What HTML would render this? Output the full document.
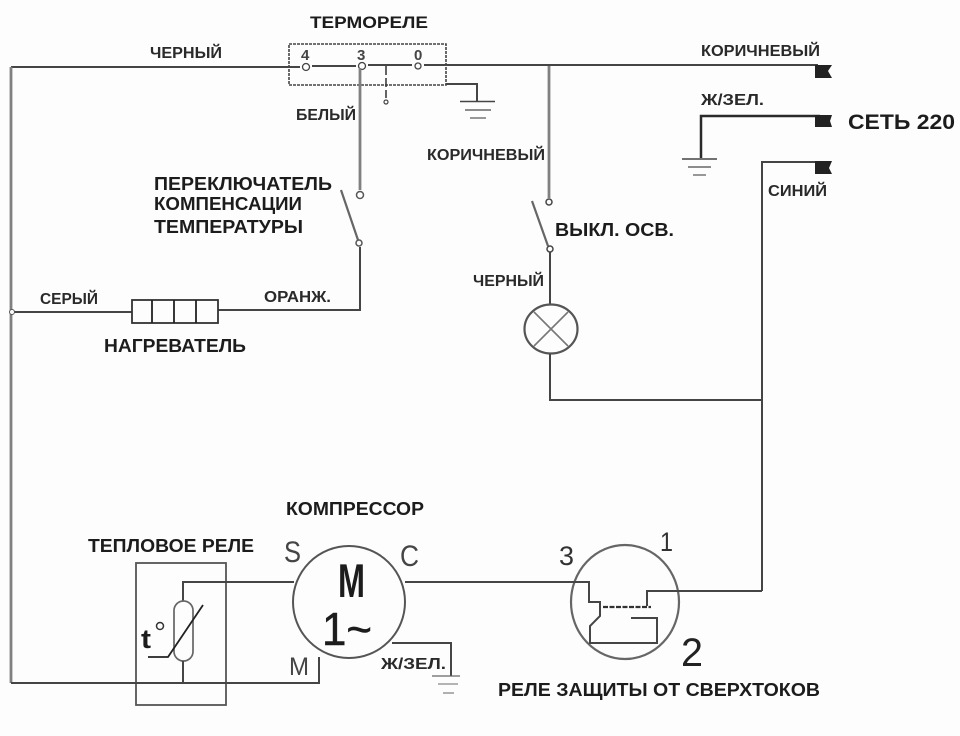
<!DOCTYPE html>
<html><head><meta charset="utf-8"><style>
html,body{margin:0;padding:0;background:#fdfdfd}
svg{display:block}
text{font-family:"Liberation Sans","DejaVu Sans",sans-serif;fill:#1c1c1c}
.b{font-weight:bold;font-size:18px}
.s{font-weight:bold;font-size:15.500px;fill:#2a2a2a}
.w{fill:none;stroke:#454545;stroke-width:2}
.g{fill:none;stroke:#808080;stroke-width:2.800}
.k{fill:none;stroke:#222;stroke-width:1.800}
</style></head><body>
<svg width="960" height="736" viewBox="0 0 960 736" xmlns="http://www.w3.org/2000/svg">
<defs><filter id="soft" filterUnits="userSpaceOnUse" x="0" y="0" width="960" height="736"><feGaussianBlur stdDeviation="0.350"/></filter></defs>
<rect width="960" height="736" fill="#fdfdfd"/>
<g filter="url(#soft)">
<!-- thermostat -->
<rect x="289" y="44" width="157" height="41" fill="none" stroke="#444" stroke-width="1.600" stroke-dasharray="3 1"/>
<path class="w" d="M11 67H300M312 66H356M368 65H412M424 65H818"/>
<path class="g" d="M11 67V683"/>
<circle cx="306" cy="67" r="3.500" fill="#fdfdfd" stroke="#444" stroke-width="1.300"/>
<circle cx="362" cy="66" r="3.500" fill="#fdfdfd" stroke="#444" stroke-width="1.300"/>
<circle cx="418" cy="66" r="3" fill="#fdfdfd" stroke="#444" stroke-width="1.300"/>
<path d="M386 66V98" stroke="#333" stroke-width="1.500" stroke-dasharray="9 3" fill="none"/>
<circle cx="386" cy="102" r="2" fill="#fdfdfd" stroke="#444" stroke-width="1.200"/>
<path class="w" d="M446 84H477V101"/>
<path d="M460 101.500H495" stroke="#444" stroke-width="1.500"/>
<path d="M465 110H491" stroke="#666" stroke-width="1.500"/>
<path d="M470 118H486" stroke="#777" stroke-width="1.500"/>
<!-- white wire / compensation switch -->
<path class="g" d="M360 68V190"/>
<circle cx="360" cy="195" r="3.500" fill="#fdfdfd" stroke="#555" stroke-width="1.500"/>
<path d="M341 190L358 240" stroke="#666" stroke-width="2.200" fill="none"/>
<circle cx="359" cy="243" r="3" fill="#fdfdfd" stroke="#555" stroke-width="1.500"/>
<path class="w" d="M360 247V310H218"/>
<!-- heater -->
<path class="w" d="M12 312H132"/>
<circle cx="12" cy="312" r="2.500" fill="#fdfdfd" stroke="#555" stroke-width="1"/>
<rect x="132" y="300" width="86" height="23" fill="#fdfdfd" stroke="#333" stroke-width="1.800"/>
<path class="k" d="M152 300V323M174 300V323M196 300V323"/>
<!-- brown wire / light switch / lamp -->
<path class="g" d="M549 66V198"/>
<circle cx="549" cy="202" r="3" fill="#fdfdfd" stroke="#444" stroke-width="1.500"/>
<path d="M532 201L548 246" stroke="#666" stroke-width="2.200" fill="none"/>
<circle cx="550" cy="249" r="3" fill="#fdfdfd" stroke="#444" stroke-width="1.500"/>
<path class="w" d="M550 252V305"/>
<ellipse cx="551" cy="329" rx="26.500" ry="24.500" fill="#fdfdfd" stroke="#555" stroke-width="2.200"/>
<path d="M534 312L568 346M568 312L534 346" stroke="#777" stroke-width="1.600"/>
<path class="w" d="M550 354V400H762"/>
<!-- mains -->
<path d="M701 158V116H820" fill="none" stroke="#2c2c2c" stroke-width="2.500"/>
<path d="M682 159H717" stroke="#444" stroke-width="1.500"/>
<path d="M688 167H711" stroke="#666" stroke-width="1.500"/>
<path d="M693 175H706" stroke="#777" stroke-width="1.500"/>
<path class="w" d="M762 591V162H820"/>
<path d="M815 65H832L828 71L832 78H815Z" fill="#222"/>
<path d="M815 115H832L830 121L832 127H815Z" fill="#222"/>
<path d="M815 161H832L829 168L832 174H815Z" fill="#222"/>
<!-- thermal relay -->
<rect x="136" y="563" width="90" height="142" fill="none" stroke="#555" stroke-width="1.800"/>
<path class="w" d="M294 582H183V601"/>
<rect x="174" y="601" width="19" height="60" rx="9.500" fill="#fdfdfd" stroke="#666" stroke-width="1.700"/>
<path class="w" d="M183 661V683"/>
<path d="M148 657H168L203 605" fill="none" stroke="#222" stroke-width="1.800"/>
<path class="w" d="M11 683H319V657"/>
<text x="141" y="648" style="font-size:27px;font-weight:bold" textLength="10" lengthAdjust="spacingAndGlyphs">t</text>
<circle cx="160" cy="626" r="3.500" fill="none" stroke="#333" stroke-width="1.500"/>
<!-- compressor -->
<circle cx="349" cy="602" r="56" fill="#fdfdfd" stroke="#555" stroke-width="2"/>
<text x="338" y="597" style="font-size:47px;font-weight:bold" textLength="27" lengthAdjust="spacingAndGlyphs">M</text>
<text x="322" y="645" style="font-size:46px;stroke:#1c1c1c;stroke-width:.5" textLength="50" lengthAdjust="spacingAndGlyphs">1~</text>
<text x="284" y="562" style="font-size:30px;fill:#444" textLength="17" lengthAdjust="spacingAndGlyphs">S</text>
<text x="400" y="566" style="font-size:30px;fill:#444" textLength="19" lengthAdjust="spacingAndGlyphs">C</text>
<text x="289" y="675" style="font-size:25px;fill:#444" textLength="20" lengthAdjust="spacingAndGlyphs">M</text>
<path class="w" d="M392 643H451V676"/>
<path d="M432 676H460" stroke="#666" stroke-width="1.300"/>
<path d="M438 684H458" stroke="#888" stroke-width="1.300"/>
<path d="M443 693H454" stroke="#888" stroke-width="1.300"/>
<!-- overcurrent relay -->
<path class="w" d="M405 582H589V602H600"/>
<ellipse cx="625" cy="602" rx="54" ry="57" fill="none" stroke="#666" stroke-width="2.200"/>
<path class="w" d="M573 582H589V602H600V616L590 626V643H657V618H631"/>
<path d="M603 607H651" stroke="#333" stroke-width="2.200" stroke-dasharray="5 1.500"/>
<path class="w" d="M647 606V591H762"/>
<text x="559" y="565" style="font-size:27px;fill:#333" textLength="15" lengthAdjust="spacingAndGlyphs">3</text>
<text x="660" y="551" style="font-size:27px;fill:#333" textLength="13" lengthAdjust="spacingAndGlyphs">1</text>
<text x="681" y="666" style="font-size:40px;fill:#222" textLength="22" lengthAdjust="spacingAndGlyphs">2</text>
<!-- terminal numerals -->
<text x="301" y="60" class="s" style="font-size:15px;fill:#444">4</text>
<text x="357" y="60" class="s" style="font-size:15px;fill:#444">3</text>
<text x="414" y="60" class="s" style="font-size:15px;fill:#444">0</text>
<!-- labels -->
<text x="310" y="28" class="b" style="font-size:17px" textLength="118" lengthAdjust="spacingAndGlyphs">ТЕРМОРЕЛЕ</text>
<text x="150" y="58" class="s" textLength="72" lengthAdjust="spacingAndGlyphs">ЧЕРНЫЙ</text>
<text x="701" y="56" class="s" textLength="119" lengthAdjust="spacingAndGlyphs">КОРИЧНЕВЫЙ</text>
<text x="701" y="105" class="s" textLength="63" lengthAdjust="spacingAndGlyphs">Ж/ЗЕЛ.</text>
<text x="848" y="129" class="b" style="font-size:21.500px" textLength="107" lengthAdjust="spacingAndGlyphs">СЕТЬ 220</text>
<text x="768" y="196" class="s" textLength="59" lengthAdjust="spacingAndGlyphs">СИНИЙ</text>
<text x="296" y="120" class="s" textLength="60" lengthAdjust="spacingAndGlyphs">БЕЛЫЙ</text>
<text x="427" y="160" class="s" textLength="118" lengthAdjust="spacingAndGlyphs">КОРИЧНЕВЫЙ</text>
<text x="154" y="190" class="b" textLength="178" lengthAdjust="spacingAndGlyphs">ПЕРЕКЛЮЧАТЕЛЬ</text>
<text x="154" y="210" class="b" textLength="148" lengthAdjust="spacingAndGlyphs">КОМПЕНСАЦИИ</text>
<text x="154" y="233" class="b" textLength="149" lengthAdjust="spacingAndGlyphs">ТЕМПЕРАТУРЫ</text>
<text x="555" y="236" class="b" textLength="119" lengthAdjust="spacingAndGlyphs">ВЫКЛ. ОСВ.</text>
<text x="473" y="286" class="s" textLength="71" lengthAdjust="spacingAndGlyphs">ЧЕРНЫЙ</text>
<text x="40" y="304" class="s" textLength="58" lengthAdjust="spacingAndGlyphs">СЕРЫЙ</text>
<text x="264" y="302" class="s" textLength="67" lengthAdjust="spacingAndGlyphs">ОРАНЖ.</text>
<text x="104" y="352" class="b" textLength="142" lengthAdjust="spacingAndGlyphs">НАГРЕВАТЕЛЬ</text>
<text x="286" y="515" class="b" textLength="138" lengthAdjust="spacingAndGlyphs">КОМПРЕССОР</text>
<text x="88" y="552" class="b" textLength="166" lengthAdjust="spacingAndGlyphs">ТЕПЛОВОЕ РЕЛЕ</text>
<text x="381" y="669" class="s" textLength="65" lengthAdjust="spacingAndGlyphs">Ж/ЗЕЛ.</text>
<text x="498" y="696" class="b" textLength="322" lengthAdjust="spacingAndGlyphs">РЕЛЕ ЗАЩИТЫ ОТ СВЕРХТОКОВ</text>
</g>
</svg>
</body></html>
